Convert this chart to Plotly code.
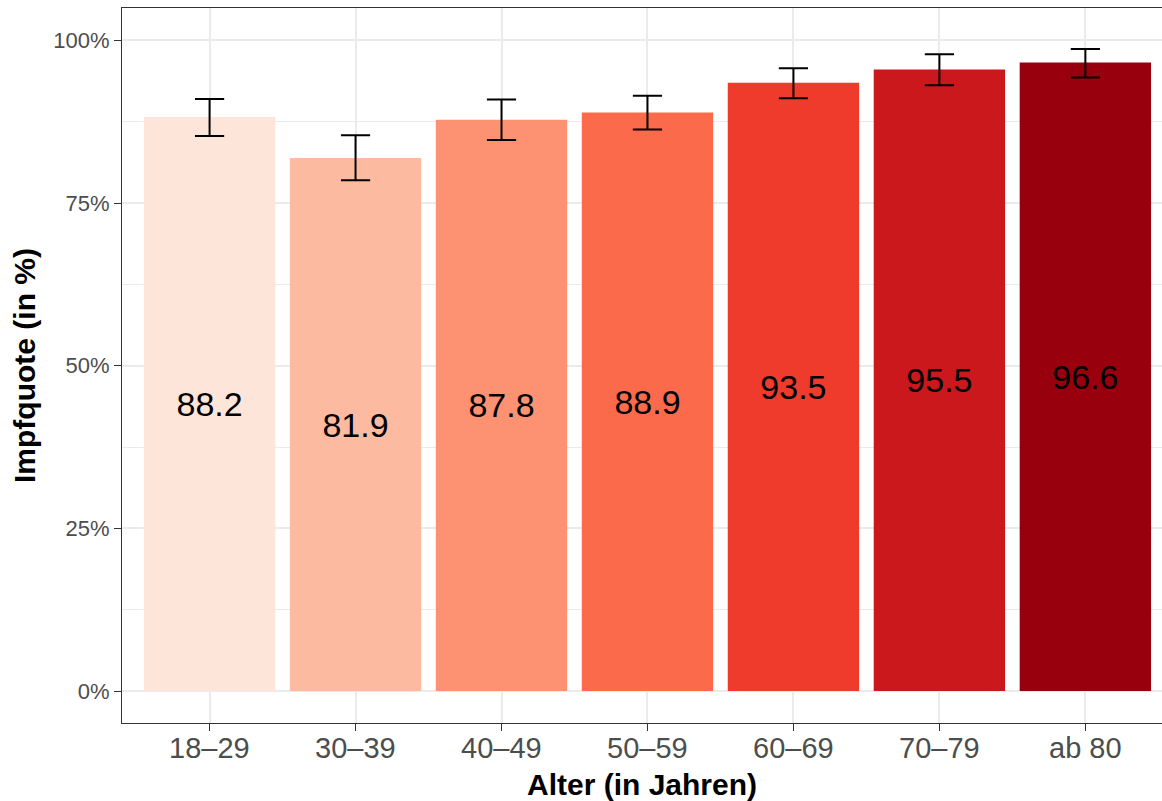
import plotly.graph_objects as go

categories = ["18–29", "30–39", "40–49", "50–59", "60–69", "70–79", "ab 80"]
values = [88.2, 81.9, 87.8, 88.9, 93.5, 95.5, 96.6]
upper = [91.0, 85.4, 90.9, 91.5, 95.7, 97.85, 98.65]
lower = [85.3, 78.5, 84.7, 86.3, 91.1, 93.1, 94.3]
colors = ["#FEE5D9", "#FCBBA1", "#FC9272", "#FB6A4A", "#EF3B2C", "#CB181D", "#99000D"]
y_ticks = [0, 25, 50, 75, 100]
y_ticklabels = ["0%", "25%", "50%", "75%", "100%"]
x_title = "Alter (in Jahren)"
y_title = "Impfquote (in %)"

err_plus = [u - v for u, v in zip(upper, values)]
err_minus = [v - l for v, l in zip(values, lower)]

FONT = "Liberation Sans, Arial, Helvetica, sans-serif"

fig = go.Figure()
fig.add_trace(go.Bar(
    x=categories,
    y=values,
    width=0.9,
    marker=dict(color=colors, line=dict(width=0)),
    text=[f"{v:.1f}" for v in values],
    textposition="inside",
    insidetextanchor="middle",
    textangle=0,
    constraintext="none",
    textfont=dict(family=FONT, size=34, color="black"),
    error_y=dict(type="data", array=err_plus, arrayminus=err_minus,
                 symmetric=False, color="black", thickness=2, width=14.6),
    hoverinfo="skip",
))

# x tick labels and x title as annotations (for exact vertical placement)
for c in categories:
    fig.add_annotation(x=c, xref="x", y=0, yref="paper", text=c, showarrow=False,
                       xanchor="center", yanchor="middle", yshift=-25,
                       font=dict(family=FONT, size=29, color="#4D4D4D"))
fig.add_annotation(x=0.5, xref="paper", y=0, yref="paper", text=f"<b>{x_title}</b>",
                   showarrow=False, xanchor="center", yanchor="middle", yshift=-61,
                   xshift=(641.5 - (121.7 + 1040.3 / 2)),
                   font=dict(family=FONT, size=30, color="black"))

fig.update_layout(
    width=1162, height=801,
    margin=dict(l=121.7, r=0, t=7.5, b=78.3),
    plot_bgcolor="white", paper_bgcolor="white",
    showlegend=False,
    font=dict(family=FONT),
    bargap=0.1,
)

fig.update_xaxes(
    type="category",
    range=[-0.6, 6.525],
    showgrid=True, gridcolor="#EBEBEB", gridwidth=1.5,
    showline=True, linecolor="#333333", linewidth=1.2, mirror=True,
    ticks="outside", ticklen=7, tickwidth=1.4, tickcolor="#333333",
    showticklabels=False,
    zeroline=False,
)

fig.update_yaxes(
    range=[-4.91, 104.97],
    tickvals=y_ticks, ticktext=y_ticklabels,
    showgrid=True, gridcolor="#EBEBEB", gridwidth=1.5,
    minor=dict(tickvals=[12.5, 37.5, 62.5, 87.5], showgrid=True, gridcolor="#EBEBEB", gridwidth=0.8, ticks=""),
    showline=True, linecolor="#333333", linewidth=1.2, mirror=False,
    ticks="outside", ticklen=7, tickwidth=1.4, tickcolor="#333333",
    tickfont=dict(family=FONT, size=22, color="#4D4D4D"),
    title=dict(text=f"<b>{y_title}</b>", font=dict(family=FONT, size=30, color="black"), standoff=8),
    zeroline=False,
)

fig.write_html("out.html", config={"displayModeBar": False},
               post_script="document.body.style.margin='0';document.body.style.overflow='hidden';")
